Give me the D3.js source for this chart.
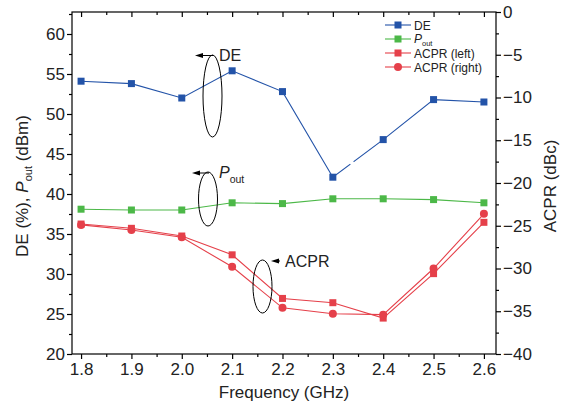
<!DOCTYPE html>
<html><head><meta charset="utf-8">
<script src="https://cdn.jsdelivr.net/npm/d3@7"></script>
<style>body{margin:0;background:#fff}svg{font-family:"Liberation Sans",Arial,sans-serif}</style>
</head><body><svg id="c" width="565" height="405"></svg>
<script>
const freq = [1.8,1.9,2.0,2.1,2.2,2.3,2.4,2.5,2.6];
const DE = [54.1,53.8,52.0,55.4,52.8,42.1,46.8,51.8,51.5];
const Pout = [38.1,38.0,38.0,38.9,38.8,39.4,39.4,39.3,38.9];
const acprLeft = [-24.8,-25.3,-26.2,-28.4,-33.5,-34.0,-35.8,-30.6,-24.6];
const acprRight = [-24.9,-25.5,-26.35,-29.8,-34.6,-35.3,-35.4,-30.0,-23.6];
const xTicks = [1.8,1.9,2.0,2.1,2.2,2.3,2.4,2.5,2.6];
const yLeftTicks = [20,25,30,35,40,45,50,55,60];
const yRightTicks = [0,-5,-10,-15,-20,-25,-30,-35,-40];

const L=72,R=496,T=12,B=354;
const svg=d3.select("#c");
const x=d3.scaleLinear().domain([1.782,2.624]).range([L,R]);
const yl=d3.scaleLinear().domain([20,62.75]).range([B,T]);
const yr=d3.scaleLinear().domain([-40,0]).range([B,T]);
const C={de:"#2353a8",p:"#4cb848",a:"#e5404a"};

svg.append("rect").attr("x",L).attr("y",T).attr("width",R-L).attr("height",B-T).attr("fill","none").attr("stroke","#000").attr("stroke-width",1.2);

function styleAxis(g){g.select(".domain").remove();g.selectAll("line").attr("stroke","#000").attr("stroke-width",1.2);g.selectAll("text").attr("font-size",17).attr("fill","#222");}
const xMinor=d3.range(1.85,2.61,0.1);
svg.append("g").attr("transform",`translate(0,${B})`).call(d3.axisBottom(x).tickValues(xTicks).tickFormat(d3.format(".1f")).tickSize(5).tickPadding(4)).call(styleAxis);
svg.append("g").attr("transform",`translate(0,${B})`).call(d3.axisBottom(x).tickValues(xMinor).tickFormat("").tickSize(3)).call(styleAxis);
svg.append("g").attr("transform",`translate(0,${T})`).call(d3.axisBottom(x).tickValues(xTicks).tickFormat("").tickSize(5)).call(styleAxis);
svg.append("g").attr("transform",`translate(0,${T})`).call(d3.axisBottom(x).tickValues(xMinor).tickFormat("").tickSize(3)).call(styleAxis);
svg.append("g").attr("transform",`translate(${L},0)`).call(d3.axisLeft(yl).tickValues(yLeftTicks).tickSize(5).tickPadding(2)).call(styleAxis);
svg.append("g").attr("transform",`translate(${L},0)`).call(d3.axisLeft(yl).tickValues(d3.range(22.5,62.6,5)).tickFormat("").tickSize(3)).call(styleAxis);
svg.append("g").attr("transform",`translate(${R},0)`).call(d3.axisRight(yr).tickValues(yRightTicks).tickFormat(d=>d===0?"0":"\u2212"+Math.abs(d)).tickSize(5).tickPadding(2)).call(styleAxis);
svg.append("g").attr("transform",`translate(${R},0)`).call(d3.axisRight(yr).tickValues(d3.range(-37.5,0,5)).tickFormat("").tickSize(3)).call(styleAxis);

svg.append("text").attr("x",(L+R)/2).attr("y",398).attr("text-anchor","middle").attr("font-size",17).attr("fill","#222").text("Frequency (GHz)");
const lt=svg.append("text").attr("transform","translate(28,186) rotate(-90)").attr("text-anchor","middle").attr("font-size",17).attr("fill","#222");
lt.append("tspan").text("DE (%), ");
lt.append("tspan").attr("font-style","italic").text("P");
lt.append("tspan").attr("font-size",11).attr("dy",4).text("out");
lt.append("tspan").attr("dy",-4).text(" (dBm)");
svg.append("text").attr("transform","translate(556,186) rotate(-90)").attr("text-anchor","middle").attr("font-size",17).attr("fill","#222").text("ACPR (dBc)");

function series(vals,ys,color,shape){
  const pts=freq.map((f,i)=>[x(f),ys(vals[i])]);
  svg.append("path").attr("d",d3.line()(pts)).attr("fill","none").attr("stroke",color).attr("stroke-width",1.1);
  const g=svg.append("g").attr("fill",color);
  if(shape==="sq") g.selectAll("rect").data(pts).join("rect").attr("x",d=>d[0]-3.5).attr("y",d=>d[1]-3.5).attr("width",7).attr("height",7);
  else g.selectAll("circle").data(pts).join("circle").attr("cx",d=>d[0]).attr("cy",d=>d[1]).attr("r",4);
  return pts;
}
const dePts=series(DE,yl,C.de,"sq");
{const a=dePts[5],b=dePts[6],f=0.38,gx=a[0]+(b[0]-a[0])*f,gy=a[1]+(b[1]-a[1])*f,dx=(b[0]-a[0]),dy=(b[1]-a[1]),n=Math.hypot(dx,dy);
 svg.append("line").attr("x1",gx-dx/n*2).attr("y1",gy-dy/n*2).attr("x2",gx+dx/n*2).attr("y2",gy+dy/n*2).attr("stroke","#fff").attr("stroke-width",3);}
series(Pout,yl,C.p,"sq");
series(acprLeft,yr,C.a,"sq");
series(acprRight,yr,C.a,"ci");

const leg=[{t:"DE",c:C.de,s:"sq"},{t:"P",sub:"out",c:C.p,s:"sq"},{t:"ACPR (left)",c:C.a,s:"sq"},{t:"ACPR (right)",c:C.a,s:"ci"}];
leg.forEach((d,i)=>{
  const yy=25+i*14;
  svg.append("line").attr("x1",385).attr("x2",411).attr("y1",yy).attr("y2",yy).attr("stroke",d.c).attr("stroke-width",1.1);
  if(d.s==="sq") svg.append("rect").attr("x",394.5).attr("y",yy-3.5).attr("width",7).attr("height",7).attr("fill",d.c);
  else svg.append("circle").attr("cx",398).attr("cy",yy).attr("r",4).attr("fill",d.c);
  const t=svg.append("text").attr("x",414).attr("y",yy+4.5).attr("font-size",12).attr("fill","#222");
  if(d.sub){t.attr("y",yy+3.5);t.append("tspan").attr("font-style","italic").text(d.t);t.append("tspan").attr("font-size",7.5).attr("dy",3).text(d.sub);}
  else t.text(d.t);
});

function arrow(x1,x2,yy){
  svg.append("line").attr("x1",x1).attr("x2",x2+4).attr("y1",yy).attr("y2",yy).attr("stroke","#000").attr("stroke-width",1);
  svg.append("path").attr("d",`M${x2},${yy} l8,-2.5 l0,5 z`).attr("fill","#000");
}
svg.append("ellipse").attr("cx",212.5).attr("cy",96).attr("rx",9.5).attr("ry",41).attr("fill","none").attr("stroke","#000").attr("stroke-width",1);
arrow(213,195,55.5);
svg.append("text").attr("x",219).attr("y",61).attr("font-size",16).attr("fill","#222").text("DE");
svg.append("ellipse").attr("cx",208).attr("cy",199).attr("rx",9.5).attr("ry",27).attr("fill","none").attr("stroke","#000").attr("stroke-width",1);
arrow(209,192,173);
const pt=svg.append("text").attr("x",219).attr("y",178).attr("font-size",16).attr("fill","#222");
pt.append("tspan").attr("font-style","italic").text("P");
pt.append("tspan").attr("font-size",10.5).attr("dy",5).text("out");
svg.append("ellipse").attr("cx",262.5).attr("cy",286.5).attr("rx",9.5).attr("ry",26.5).attr("fill","none").attr("stroke","#000").attr("stroke-width",1);
arrow(280,271,261);
svg.append("text").attr("x",285).attr("y",267).attr("font-size",16).attr("fill","#222").text("ACPR");
</script></body></html>
